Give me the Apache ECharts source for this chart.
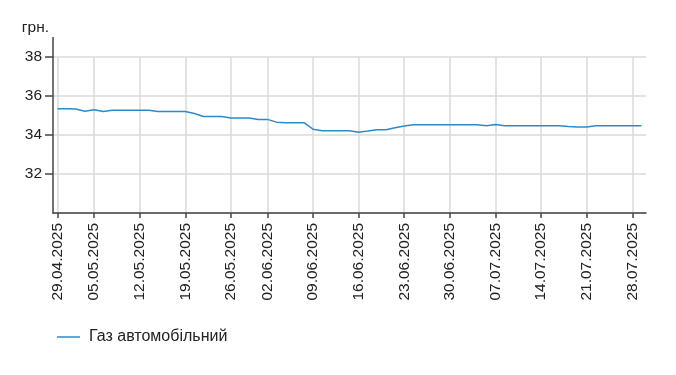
<!DOCTYPE html>
<html>
<head>
<meta charset="utf-8">
<script src="https://cdn.jsdelivr.net/npm/echarts@6/dist/echarts.min.js"></script>
<style>html,body{margin:0;padding:0;background:#fff;}#c{width:676px;height:375px;}</style>
</head>
<body>
<div id="c"></div>
<script>
const dates = [
  '29.04.2025','30.04.2025','01.05.2025','02.05.2025',
  '05.05.2025','06.05.2025','07.05.2025','08.05.2025','09.05.2025',
  '12.05.2025','13.05.2025','14.05.2025','15.05.2025','16.05.2025',
  '19.05.2025','20.05.2025','21.05.2025','22.05.2025','23.05.2025',
  '26.05.2025','27.05.2025','28.05.2025','29.05.2025',
  '02.06.2025','03.06.2025','04.06.2025','05.06.2025','06.06.2025',
  '09.06.2025','10.06.2025','11.06.2025','12.06.2025','13.06.2025',
  '16.06.2025','17.06.2025','18.06.2025','19.06.2025','20.06.2025',
  '23.06.2025','24.06.2025','25.06.2025','26.06.2025','27.06.2025',
  '30.06.2025','01.07.2025','02.07.2025','03.07.2025','04.07.2025',
  '07.07.2025','08.07.2025','09.07.2025','10.07.2025','11.07.2025',
  '14.07.2025','15.07.2025','16.07.2025','17.07.2025','18.07.2025',
  '21.07.2025','22.07.2025','23.07.2025','24.07.2025','25.07.2025',
  '28.07.2025','29.07.2025'
];
const gasPrices = [
  35.34, 35.34, 35.33, 35.22,
  35.29, 35.20, 35.27, 35.27, 35.27,
  35.27, 35.27, 35.21, 35.21, 35.21,
  35.21, 35.10, 34.95, 34.95, 34.95,
  34.87, 34.87, 34.87, 34.80,
  34.80, 34.66, 34.63, 34.63, 34.63,
  34.30, 34.22, 34.22, 34.22, 34.22,
  34.14, 34.20, 34.27, 34.27, 34.37,
  34.46, 34.53, 34.53, 34.53, 34.53,
  34.53, 34.53, 34.53, 34.52, 34.47,
  34.54, 34.47, 34.47, 34.47, 34.47,
  34.47, 34.47, 34.47, 34.43, 34.41,
  34.41, 34.47, 34.47, 34.47, 34.47,
  34.47, 34.47
];
const tickLabels = [
  '29.04.2025','05.05.2025','12.05.2025','19.05.2025','26.05.2025','02.06.2025',
  '09.06.2025','16.06.2025','23.06.2025','30.06.2025','07.07.2025','14.07.2025',
  '21.07.2025','28.07.2025'
];
const seriesName = 'Газ автомобільний';
const unitName = 'грн.';
const yMin = 30, yMax = 38, yStep = 2;

const FONT = '"Liberation Sans", Arial, sans-serif';
const TXT = '#222';
const showTick = (i, v) => tickLabels.indexOf(v) !== -1;

const chart = echarts.init(document.getElementById('c'), null, {renderer: 'canvas'});
chart.setOption({
  animation: false,
  backgroundColor: '#fff',
  grid: {left: 53, right: 30, top: 57, bottom: 162, containLabel: false},
  legend: {
    left: 52, top: 324,
    icon: 'rect', itemWidth: 23, itemHeight: 1.5,
    textStyle: {fontFamily: FONT, fontSize: 16, color: TXT, padding: [0, 0, 0, 4]},
    data: [seriesName]
  },
  xAxis: {
    type: 'category',
    data: dates,
    boundaryGap: true,
    axisLine: {lineStyle: {color: '#444', width: 1.5}},
    axisTick: {show: true, alignWithLabel: true, length: 5, interval: showTick, lineStyle: {color: '#444', width: 1.5}},
    axisLabel: {interval: showTick, rotate: 90, margin: 10, fontFamily: FONT, fontSize: 15.5, color: TXT},
    splitLine: {show: true, alignWithLabel: true, interval: showTick, lineStyle: {color: '#dadada', width: 1.5}}
  },
  yAxis: {
    type: 'value',
    min: yMin, max: yMax, interval: yStep,
    name: unitName,
    nameLocation: 'end',
    nameGap: 21,
    nameTextStyle: {fontFamily: FONT, fontSize: 15.5, color: TXT, align: 'right', padding: [0, 4, 0, 0]},
    axisLine: {show: true, lineStyle: {color: '#444', width: 1.5}, symbol: ['none', 'rect'], symbolSize: [1.5, 20], symbolOffset: [0, 10]},
    axisTick: {show: true, length: 8, lineStyle: {color: '#444', width: 1.5}},
    axisLabel: {showMinLabel: false, margin: 11, fontFamily: FONT, fontSize: 15.5, color: TXT},
    splitLine: {show: true, lineStyle: {color: '#dadada', width: 1.5}}
  },
  series: [{
    name: seriesName,
    type: 'line',
    data: gasPrices,
    showSymbol: false,
    symbol: 'none',
    lineStyle: {color: '#2b8acb', width: 1.5},
    itemStyle: {color: '#2b8acb'}
  }]
});
</script>
</body>
</html>
